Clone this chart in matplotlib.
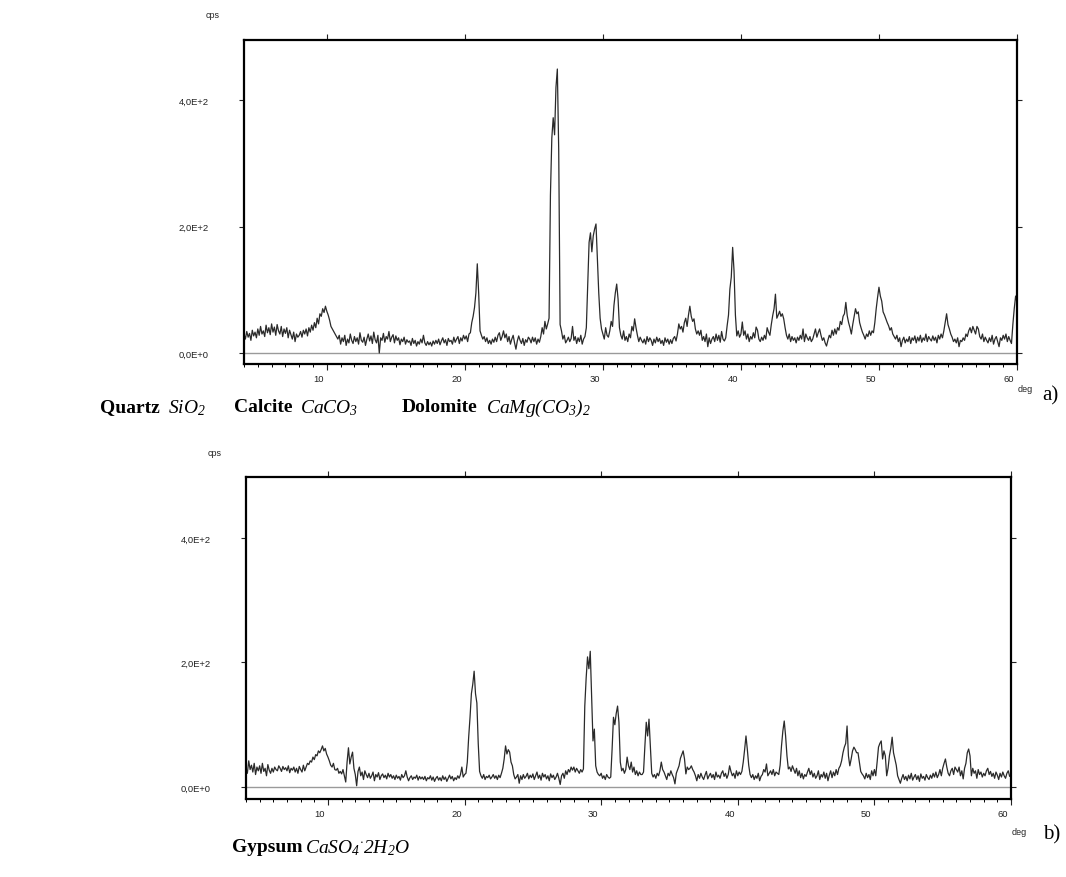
import numpy as np
import matplotlib
matplotlib.use('Agg')
from matplotlib import pyplot as plt
from matplotlib.ticker import MultipleLocator
import matplotlib.transforms as mtransforms

plt.rcParams['mathtext.fontset'] = 'custom'
plt.rcParams['mathtext.rm'] = 'Liberation Serif:italic'
plt.rcParams['mathtext.it'] = 'Liberation Serif:italic'
plt.rcParams['mathtext.bf'] = 'Liberation Serif:bold'
plt.rcParams['mathtext.default'] = 'it'

# step scan, 2theta from 4 to 60 deg, 0.1 deg steps (one row = one degree)
theta_start = 4.0
theta_step = 0.1

cps_a = [
    30, 22, 34, 25, 31, 20, 36, 27, 33, 24,
    38, 28, 42, 30, 35, 26, 44, 32, 40, 29,
    46, 33, 41, 28, 45, 35, 30, 42, 26, 38,
    31, 40, 24, 36, 29, 22, 33, 18, 30, 25,
    28, 34, 25, 36, 30, 38, 27, 40, 33, 44,
    36, 48, 40, 55, 46, 62, 58, 70, 64, 74,
    66, 60, 52, 42, 38, 34, 30, 26, 22, 28,
    14, 24, 18, 28, 12, 22, 16, 30, 20, 15,
    26, 18, 24, 14, 32, 20, 17, 25, 12, 22,
    30, 19, 27, 15, 33, 21, 16, 28, 0, 24,
    20, 31, 17, 26, 22, 34, 18, 25, 29, 16,
    27, 20, 24, 13, 22, 18, 25, 14, 21, 17,
    19, 12, 23, 15, 20, 11, 18, 14, 22, 16,
    28, 16, 12, 18, 13, 17, 11, 19, 14, 20,
    15, 22, 13, 19, 24, 16, 21, 12, 23, 18,
    20, 14, 25, 17, 22, 26, 15, 24, 19, 28,
    22, 27, 18, 30, 32, 48, 58, 72, 95, 141,
    95, 35, 28, 22, 26, 18, 24, 15, 20, 14,
    22, 17, 25, 18, 28, 32, 20, 26, 35, 24,
    30, 18, 26, 14, 22, 28, 16, 6, 19, 27,
    20, 15, 23, 12, 21, 17, 25, 22, 16, 25,
    18, 24, 14, 22, 17, 26, 40, 30, 50, 38,
    46, 55, 250, 340, 372, 345, 420, 449, 320, 45,
    35, 22, 28, 16, 20, 25, 18, 23, 42, 20,
    26, 15, 24, 18, 28, 14, 22, 26, 40, 110,
    175, 190, 160, 185, 196, 204, 150, 95, 55, 38,
    30, 22, 40, 28, 25, 35, 50, 42, 75, 95,
    109, 85, 40, 28, 22, 35, 20, 26, 18, 30,
    24, 42, 35, 54, 40, 28, 18, 25, 20, 16,
    22, 14, 26, 18, 24, 20, 12, 22, 16, 25,
    18, 23, 15, 20, 12, 24, 17, 22, 14, 21,
    15, 23, 26, 19, 30, 46, 38, 42, 33, 48,
    55, 42, 60, 74, 58, 50, 54, 38, 30, 35,
    28, 36, 20, 26, 18, 30, 10, 24, 15, 22,
    26, 18, 30, 20, 28, 17, 34, 22, 19, 24,
    43, 60, 101, 120, 167, 130, 60, 27, 35, 25,
    30, 49, 28, 35, 22, 30, 18, 26, 22, 32,
    24, 41, 36, 22, 18, 25, 20, 28, 22, 40,
    33, 28, 45, 59, 70, 93, 55, 60, 66, 58,
    62, 54, 40, 28, 22, 30, 18, 26, 20, 24,
    16, 25, 20, 28, 22, 38, 18, 30, 24, 20,
    26, 18, 22, 30, 38, 25, 32, 38, 28, 20,
    24, 16, 11, 20, 28, 24, 36, 28, 38, 30,
    40, 36, 50, 45, 58, 62, 80, 59, 48, 40,
    30, 45, 58, 70, 62, 65, 48, 40, 33, 28,
    22, 30, 26, 35, 28, 35, 32, 48, 70, 88,
    104, 90, 82, 65, 60, 54, 48, 43, 36, 40,
    30, 26, 22, 28, 18, 24, 10, 20, 25, 16,
    22, 18, 26, 15, 24, 20, 27, 16, 25, 19,
    28, 17, 24, 20, 30, 18, 26, 22, 19, 27,
    20, 25, 16, 28, 22, 30, 24, 35, 48, 62,
    45, 38, 30, 25, 18, 22, 16, 24, 10, 20,
    18, 24, 20, 30, 26, 35, 40, 32, 42, 36,
    30, 42, 38, 26, 22, 30, 18, 25, 20, 16,
    24, 18, 28, 14, 22, 26, 18, 10, 24, 20,
    28, 22, 30, 18, 26, 20, 15, 45, 70, 90,
    80,
]

cps_b = [
    30, 22, 42, 28, 35, 24, 38, 20, 32, 26,
    34, 22, 38, 25, 30, 18, 36, 27, 22, 30,
    24, 32, 28, 26, 34, 30, 25, 33, 28, 31,
    26, 34, 23, 30, 27, 32, 24, 30, 22, 33,
    28, 24, 35, 26, 32, 38, 36, 42, 40, 48,
    44, 52, 50, 58, 55, 60, 66, 58, 62, 53,
    48, 42, 35, 32, 38, 28, 27, 30, 22, 25,
    21, 28, 18, 8, 40, 63, 37, 48, 56, 30,
    20, 2, 25, 32, 18, 24, 12, 26, 20, 15,
    22, 14, 18, 24, 10, 20, 16, 23, 12, 18,
    21, 15, 19, 13, 22, 16, 20, 14, 18, 12,
    19, 14, 17, 11, 20, 15, 18, 26, 16, 10,
    15, 18, 12, 16, 14, 19, 11, 17, 13, 16,
    12, 17, 10, 15, 13, 18, 11, 16, 9, 14,
    17, 11, 15, 10, 18, 12, 16, 9, 14, 19,
    13, 17, 10, 15, 12, 18, 14, 20, 32, 16,
    20, 22, 40, 80, 112, 150, 165, 186, 150, 135,
    70, 25, 18, 14, 20, 12, 17, 15, 19, 13,
    16, 20, 14, 18, 12, 19, 15, 22, 30, 45,
    66, 53, 60, 56, 40, 34, 20, 13, 16, 20,
    6, 18, 12, 20, 14, 17, 22, 13, 19, 15,
    21, 12, 18, 24, 14, 19, 11, 22, 16, 20,
    13, 18, 10, 21, 15, 19, 12, 16, 22, 14,
    4, 18, 22, 14, 26, 20, 28, 24, 32, 27,
    32, 24, 30, 26, 22, 28, 24, 29, 130, 175,
    209, 190, 218, 146, 74, 93, 34, 24, 20, 18,
    22, 14, 18, 12, 20, 16, 14, 16, 61, 112,
    100, 118, 130, 104, 40, 26, 30, 22, 28, 48,
    34, 28, 40, 24, 32, 20, 26, 18, 24, 20,
    20, 24, 66, 104, 82, 109, 66, 22, 16, 20,
    14, 22, 18, 26, 40, 28, 24, 18, 12, 22,
    18, 26, 20, 15, 5, 22, 28, 34, 46, 52,
    58, 45, 21, 32, 28, 30, 34, 28, 24, 18,
    10, 20, 14, 22, 16, 12, 19, 25, 13, 18,
    22, 15, 20, 12, 24, 16, 19, 14, 22, 26,
    17, 22, 14, 20, 34, 25, 18, 22, 14, 26,
    18, 24, 20, 25, 40, 60, 82, 60, 35, 20,
    15, 20, 12, 18, 14, 22, 10, 17, 20, 28,
    24, 37, 18, 22, 26, 20, 28, 18, 24, 22,
    20, 35, 66, 90, 106, 82, 50, 29, 32, 25,
    34, 28, 22, 30, 18, 26, 15, 22, 13, 20,
    17, 24, 30, 20, 26, 16, 22, 14, 18, 26,
    12, 20, 16, 24, 14, 22, 10, 19, 26, 15,
    24, 18, 28, 20, 30, 34, 42, 55, 64, 70,
    98, 50, 34, 45, 58, 64, 60, 55, 55, 40,
    25, 21, 18, 13, 22, 15, 20, 12, 26, 18,
    28, 18, 40, 64, 70, 74, 45, 58, 50, 18,
    30, 50, 62, 80, 55, 45, 35, 18, 12, 6,
    14, 20, 12, 17, 10, 19, 13, 22, 11, 16,
    20, 12, 18, 9, 21, 14, 17, 11, 20, 15,
    12, 19, 14, 22, 16, 24, 15, 20, 28, 18,
    30, 38, 45, 32, 22, 18, 26, 30, 20, 32,
    28, 24, 32, 18, 26, 13, 30, 38, 55, 61,
    50, 18, 30, 22, 26, 14, 28, 20, 24, 16,
    22, 18, 26, 30, 20, 25, 17, 22, 14, 24,
    19, 12, 22, 16, 24, 18, 14, 22, 26, 17,
    20,
]

x_ticks = [10, 20, 30, 40, 50, 60]
y_ticks = [0, 200, 400]
y_tick_labels = ['0,0E+0', '2,0E+2', '4,0E+2']

W, H = 1066, 878


def px(x, y):
    # pixel position (from top left) -> figure fraction
    return x / W, 1 - y / H


def draw_panel(ax, cps, ylim, tag, tag_xy, deg_xy, cps_xy):
    two_theta = theta_start + theta_step * np.arange(len(cps))
    ax.axhline(0, color='#9a9a9a', lw=1.0, zorder=1)
    ax.plot(two_theta, cps, color='#2a2a2a', lw=0.9, zorder=2)
    ax.set_xlim(4, 60)
    ax.set_ylim(*ylim)
    for sp in ax.spines.values():
        sp.set_linewidth(1.6)
        sp.set_color('black')
    ax.set_xticks(x_ticks)
    ax.xaxis.set_minor_locator(MultipleLocator(1))
    ax.set_yticks(y_ticks)
    ax.set_yticklabels(y_tick_labels)
    ax.tick_params(axis='x', which='major', direction='out', length=4, width=0.8,
                   top=True, labelsize=6.8, pad=3.3, colors='#222222')
    ax.tick_params(axis='x', which='minor', direction='out', length=2.3, width=0.7,
                   top=False)
    ax.tick_params(axis='y', which='major', direction='out', length=3.5, width=0.8,
                   left=True, right=True, labelsize=6.8, pad=22, colors='#222222')
    shift = mtransforms.ScaledTranslation(-8 / 100, 0, ax.figure.dpi_scale_trans)
    for lab in ax.get_xticklabels():
        lab.set_transform(lab.get_transform() + shift)
        lab.set_fontfamily('Liberation Sans')
    for lab in ax.get_yticklabels():
        lab.set_fontfamily('Liberation Sans')
    fig = ax.figure
    fig.text(*px(*cps_xy), 'cps', fontsize=6.5, family='Liberation Sans',
             ha='center', va='center', color='#222222')
    fig.text(*px(*deg_xy), 'deg', fontsize=6.5, family='Liberation Sans',
             ha='center', va='center', color='#222222')
    fig.text(*px(*tag_xy), tag, fontsize=15, family='Liberation Serif',
             ha='center', va='center')


def mineral(fig, x_name, x_formula, y, name, formula):
    fig.text(*px(x_name, y), name, fontsize=14, family='Liberation Serif',
             weight='bold', ha='left', va='center')
    fig.text(*px(x_formula, y), formula, fontsize=14, ha='left', va='center')


fig = plt.figure(figsize=(W / 100, H / 100), dpi=100)

ax_a = fig.add_axes([244 / W, 1 - 365 / H, 773 / W, 324 / H])
draw_panel(ax_a, cps_a, (-17.4, 494.9), 'a)', (1050, 396), (1025, 390), (213, 16))

ax_b = fig.add_axes([246 / W, 1 - 800 / H, 765 / W, 322 / H])
draw_panel(ax_b, cps_b, (-19.3, 498.0), 'b)', (1052, 835), (1019, 833), (215, 454))

mineral(fig, 100, 168, 408, 'Quartz', r'$SiO_2$')
mineral(fig, 234, 300, 408, 'Calcite', r'$CaCO_3$')
mineral(fig, 402, 486, 408, 'Dolomite', r'$CaMg(CO_3)_2$')
mineral(fig, 232, 305, 848, 'Gypsum', r'$CaSO_4{}^{\cdot}2H_2O$')

fig.savefig('out.png', dpi=100)
